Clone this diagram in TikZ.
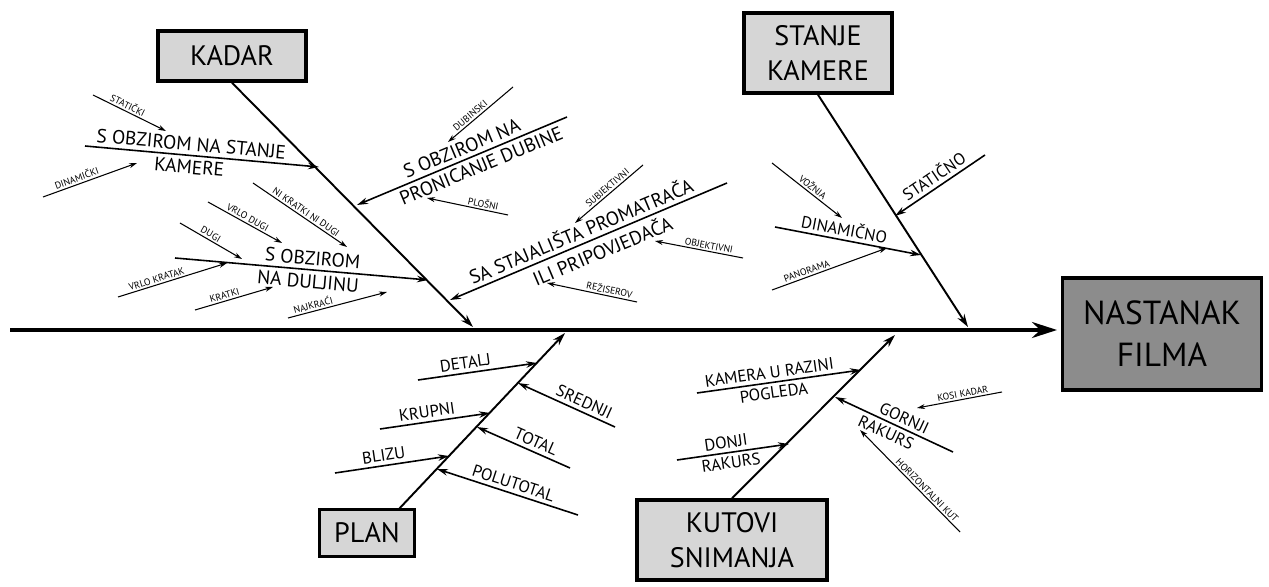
\documentclass[tikz,border=0pt]{standalone}
\usepackage{fontspec}
\setmainfont{PT Sans}
\usetikzlibrary{arrows.meta}
\definecolor{boxgray}{gray}{0.84}
\definecolor{headgray}{gray}{0.55}
\tikzset{
  box/.style={draw, line width=2pt, fill=boxgray, align=center, font=\fontsize{16}{20}\selectfont, inner sep=2pt},
  bone/.style={line width=1.1pt, -{Stealth[length=2.6mm,width=1.6mm]}},
  twig/.style={line width=0.9pt, -{Stealth[length=2.2mm,width=1.3mm]}},
  leaf/.style={line width=0.6pt, -{Stealth[length=1.6mm,width=1mm]}},
  biglbl/.style={sloped, font=\fontsize{11}{13}\selectfont, inner sep=2.2pt},
  midlbl/.style={sloped, font=\fontsize{9.5}{11}\selectfont, inner sep=2pt},
  tinylbl/.style={sloped, above, font=\fontsize{5.5}{6.5}\selectfont, inner sep=1pt},
}
\begin{document}
\begin{tikzpicture}[x=0.02cm, y=-0.02cm]
\useasboundingbox (0,0) rectangle (1269,587);

% boxes
\node[box, minimum width=2.96cm, minimum height=1cm] (kadar) at (232,56) {KADAR};
\node[box, minimum width=2.96cm, minimum height=1.6cm] (stanje) at (818,53) {STANJE\\KAMERE};
\node[box, minimum width=1.9cm, minimum height=0.94cm] (plan) at (367,533) {PLAN};
\node[box, minimum width=3.8cm, minimum height=1.6cm] (kutovi) at (732,540) {KUTOVI\\SNIMANJA};
\node[box, fill=headgray, minimum width=3.98cm, minimum height=2.24cm, font=\fontsize{19}{24}\selectfont] (head) at (1162,334) {NASTANAK\\FILMA};

% spine and main bones
\foreach \n/\x/\y in {tail/10/330, tip/1057/330, kadarE/473/327, stanjeE/968/327, planS/398/510, planE/565/333, kutoviE/895/335}
  \coordinate (\n) at (\x,\y);
\draw[line width=1.8pt, -{Stealth[length=5mm,width=3.2mm]}] (tail) -- (tip);
\draw[bone] (kadar.south) -- (kadarE);
\draw[bone] (stanje.south) -- (stanjeE);
\draw[bone] (planS) -- (planE);
\draw[bone] (kutovi.north) -- (kutoviE);

% sub bones
\foreach \n/\x/\y in {sk1/85/146, sk2/319/167, du1/175/258, du2/428/280, pd1/567/117, pd2/357/205, sp1/727/183, sp2/450/300,
  sc1/985/155, sc2/895/216, dn1/775/227, dn2/921/255,
  de1/418/380, de2/537/363, kr1/380/429, kr2/490/413, bl1/335/473, bl2/449/456,
  sr1/615/427, sr2/518/383, to1/570/468, to2/477/427, pt1/578/515, pt2/437/469,
  kz1/697/393, kz2/861/370, dr1/677/460, dr2/789/444, gr1/953/452, gr2/835/397}
  \coordinate (\n) at (\x,\y);

\draw[twig] (sk1) -- node[biglbl, above, pos=.45] {S OBZIROM NA STANJE} node[biglbl, below, pos=.45] {KAMERE} (sk2);
\draw[twig] (du1) -- node[biglbl, above, pos=.54] {S OBZIROM} node[biglbl, below, pos=.53] {NA DULJINU} (du2);
\draw[twig] (pd1) -- node[biglbl, above, pos=.48] {S OBZIROM NA} node[biglbl, below, pos=.43] {PRONICANJE DUBINE} (pd2);
\draw[twig] (sp1) -- node[biglbl, above, pos=.51] {SA STAJALIŠTA PROMATRAČA} node[biglbl, below, pos=.47] {ILI PRIPOVJEDAČA} (sp2);
\draw[twig] (sc1) -- node[midlbl, above, pos=.5] {STATIČNO} (sc2);
\draw[twig] (dn1) -- node[midlbl, above, pos=.46] {DINAMIČNO} (dn2);

\foreach \s/\e/\p/\t in {de1/de2/.41/DETALJ, kr1/kr2/.44/KRUPNI, bl1/bl2/.44/BLIZU,
  sr1/sr2/.36/SREDNJI, to1/to2/.41/TOTAL, pt1/pt2/.48/POLUTOTAL}
  \draw[twig] (\s) -- node[midlbl, above, pos=\p] {\t} (\e);

\draw[twig] (kz1) -- node[midlbl, above, pos=.45] {KAMERA U RAZINI} node[midlbl, below, pos=.46] {POGLEDA} (kz2);
\draw[twig] (dr1) -- node[midlbl, above, pos=.45] {DONJI} node[midlbl, below, pos=.47] {RAKURS} (dr2);
\draw[twig] (gr1) -- node[midlbl, above, pos=.45] {GORNJI} node[midlbl, below, pos=.53] {RAKURS} (gr2);

% small arrows
\foreach \n/\x/\y in {sti1/93/95, sti2/166/131, din1/43/197, din2/137/163, dug1/180/223, dug2/242/259,
  vd1/208/202, vd2/282/243, nk1/253/183, nk2/347/247, vk1/118/297, vk2/227/263,
  kt1/195/310, kt2/273/287, nj1/288/318, nj2/387/292, db1/513/87, db2/448/142,
  pl1/508/215, pl2/427/198, sb1/643/165, sb2/575/223, ob1/743/258, ob2/655/241,
  rz1/637/302, rz2/547/283, vz1/772/163, vz2/842/218, pn1/772/290, pn2/887/248,
  ks1/1002/392, ks2/917/408, hk1/960/532, hk2/860/430}
  \coordinate (\n) at (\x,\y);

\foreach \s/\e/\p/\t in {sti1/sti2/.44/STATIČKI, din1/din2/.38/DINAMIČKI, dug1/dug2/.45/DUGI,
  vd1/vd2/.5/VRLO DUGI, nk1/nk2/.53/NI KRATKI NI DUGI, vk1/vk2/.37/VRLO KRATAK,
  kt1/kt2/.4/KRATKI, nj1/nj2/.27/NAJKRAĆI, db1/db2/.6/DUBINSKI, pl1/pl2/.32/PLOŠNI,
  sb1/sb2/.47/SUBJEKTIVNI, ob1/ob2/.4/OBJEKTIVNI, rz1/rz2/.32/REŽISEROV,
  vz1/vz2/.53/VOŽNJA, pn1/pn2/.32/PANORAMA, ks1/ks2/.45/KOSI KADAR, hk1/hk2/.37/HORIZONTALNI KUT}
  \draw[leaf] (\s) -- node[tinylbl, pos=\p] {\t} (\e);

\end{tikzpicture}
\end{document}
